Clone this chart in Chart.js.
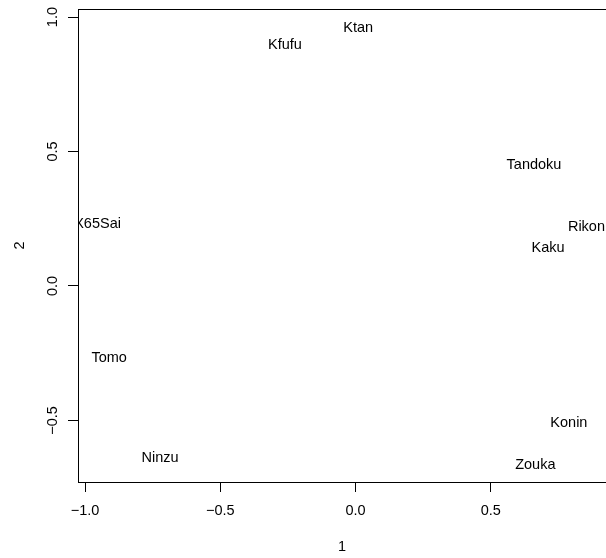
<!DOCTYPE html>
<html><head><meta charset="utf-8">
<script src="https://cdn.jsdelivr.net/npm/chart.js@4/dist/chart.umd.min.js"></script>
<style>html,body{margin:0;padding:0;background:#fff;overflow:hidden;width:606px;height:558px}canvas{display:block}</style>
</head><body>
<canvas id="c" width="640" height="558"></canvas>
<script>
// Configuration map: variable scores on dimensions 1 and 2
const labels = ['Ktan', 'Kfufu', 'Tandoku', 'Rikon', 'Kaku', 'X65Sai', 'Tomo', 'Ninzu', 'Konin', 'Zouka'];
const dim1 = [0.010, -0.261, 0.660, 0.854, 0.712, -0.954, -0.911, -0.723, 0.789, 0.665];
const dim2 = [0.965, 0.901, 0.455, 0.223, 0.146, 0.234, -0.265, -0.637, -0.507, -0.664];

const xTicks = [-1.0, -0.5, 0.0, 0.5];
const yTicks = [-0.5, 0.0, 0.5, 1.0];
const xTickLabels = ['\u22121.0', '\u22120.5', '0.0', '0.5'];
const yTickLabels = ['\u22120.5', '0.0', '0.5', '1.0'];
const xTitle = '1';
const yTitle = '2';

const FONT = '14.5px "Liberation Sans", Arial, Helvetica, sans-serif';

// axis limits padded by 4% of the data range on each side
function padded(v) {
  const lo = Math.min(...v), hi = Math.max(...v), r = hi - lo;
  return [lo - 0.04 * r, hi + 0.04 * r];
}
const [xMin, xMax] = padded(dim1);
const [yMin, yMax] = padded(dim2);

const points = dim1.map((x, i) => ({ x: x, y: dim2[i] }));

const textPlot = {
  id: 'textPlot',
  afterDatasetsDraw(chart) {
    const ctx = chart.ctx;
    const a = chart.chartArea;
    const xs = chart.scales.x, ys = chart.scales.y;
    ctx.save();
    ctx.fillStyle = '#000';
    ctx.font = FONT;
    ctx.textAlign = 'center';
    ctx.textBaseline = 'middle';

    // point labels, clipped to the plotting region
    ctx.save();
    ctx.beginPath();
    ctx.rect(a.left, a.top, a.right - a.left, a.bottom - a.top);
    ctx.clip();
    const meta = chart.getDatasetMeta(0);
    meta.data.forEach((el, i) => {
      ctx.fillText(labels[i], el.x, el.y + 1);
    });
    ctx.restore();

    // frame around the plotting region
    ctx.strokeStyle = '#000';
    ctx.lineWidth = 1;
    ctx.strokeRect(Math.round(a.left) + 0.5, Math.round(a.top) + 0.5,
                   Math.round(a.right) - Math.round(a.left), Math.round(a.bottom) - Math.round(a.top));

    // x tick labels and title
    xTicks.forEach((v, i) => {
      ctx.fillText(xTickLabels[i], xs.getPixelForValue(v), a.bottom + 29);
    });
    ctx.fillText(xTitle, (a.left + a.right) / 2, a.bottom + 65);

    // y tick labels and title, rotated
    yTicks.forEach((v, i) => {
      ctx.save();
      ctx.translate(a.left - 25, ys.getPixelForValue(v));
      ctx.rotate(-Math.PI / 2);
      ctx.fillText(yTickLabels[i], 0, 0);
      ctx.restore();
    });
    ctx.save();
    ctx.translate(a.left - 58, (a.top + a.bottom) / 2);
    ctx.rotate(-Math.PI / 2);
    ctx.fillText(yTitle, 0, 0);
    ctx.restore();
    ctx.restore();
  }
};

new Chart(document.getElementById('c'), {
  type: 'scatter',
  data: {
    datasets: [{
      data: points,
      pointRadius: 0,
      pointHoverRadius: 0,
      borderWidth: 0,
      showLine: false
    }]
  },
  options: {
    responsive: false,
    animation: false,
    devicePixelRatio: 1,
    layout: { autoPadding: false, padding: { top: 9, left: 0, right: 34, bottom: 0 } },
    plugins: { legend: { display: false }, tooltip: { enabled: false } },
    events: [],
    scales: {
      x: {
        type: 'linear',
        position: 'bottom',
        min: xMin,
        max: xMax,
        afterBuildTicks(s) { s.ticks = xTicks.map(v => ({ value: v })); },
        afterFit(s) { s.height = 76; },
        ticks: { display: false },
        grid: { drawOnChartArea: false, drawTicks: true, tickLength: 10, color: '#000', tickColor: '#000', lineWidth: 1 },
        border: { display: true, color: '#000', width: 1 }
      },
      y: {
        type: 'linear',
        position: 'left',
        min: yMin,
        max: yMax,
        afterBuildTicks(s) { s.ticks = yTicks.map(v => ({ value: v })); },
        afterFit(s) { s.width = 78; },
        ticks: { display: false },
        grid: { drawOnChartArea: false, drawTicks: true, tickLength: 10, color: '#000', tickColor: '#000', lineWidth: 1 },
        border: { display: true, color: '#000', width: 1 }
      }
    }
  },
  plugins: [textPlot]
});
</script>
</body></html>
